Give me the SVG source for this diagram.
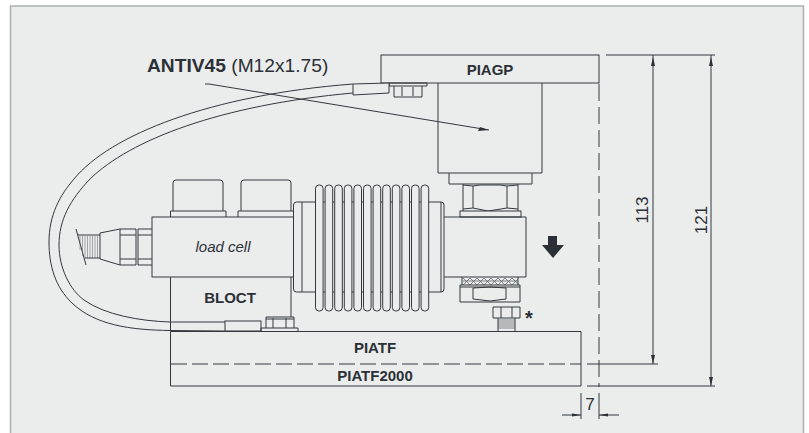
<svg xmlns="http://www.w3.org/2000/svg" width="809" height="433" viewBox="0 0 809 433">
<style>
text{font-family:"Liberation Sans",Arial,sans-serif;fill:#2b3036}
.l{fill:none;stroke:#33383d;stroke-width:1}
.f{fill:#ebeded;stroke:#33383d;stroke-width:1}
.b{font-weight:bold;font-size:15px;text-anchor:middle}
.d{fill:none;stroke:#33383d;stroke-width:1;stroke-dasharray:16 5}
.a{fill:#2b3036;stroke:none}
.t{fill:none;stroke:#555a5e;stroke-width:.7}
.h{fill:none;stroke:#555a5e;stroke-width:.5}
</style>
<rect x="0" y="0" width="809" height="433" fill="#fff"/>
<path d="M10.500 433V6H803.500V433" fill="#ebeded" stroke="#aeb0b0" stroke-width="1.500"/>
<g id="connectors">
<path class="l" d="M225 331L170 330.500C130 330 95 325 72 303C55 287 49 265 49 242C49 215 60 195 74 179C110 135 210 95 353 84"/>
<path class="l" d="M225 322H170C140 321 105 315 84 300C70 290 59 268 59 245C59 220 70 200 90 179C130 140 220 105 353 93"/>
<path class="l" d="M205 84H209L489 130"/>
<path class="a" d="M489 130L478 131L480 127Z"/>
<path class="d" d="M171 364H581"/>
<path class="d" style="stroke-dasharray:17 6" d="M599 84V387"/>
<path class="l" d="M606 55H715M587 364H658M587 386H715M581 393V419M599 393V419M562 415H581M599 415H619M653 55V364M711 55V386"/>
<path class="a" d="M653 57L651 66H655ZM653 364L651 355H655ZM711 57L709 66H713ZM711 386L709 377H713ZM581 415L572 413.500V416.500ZM599 415L608 413.500V416.500Z"/>
</g>
<g id="piagp"><rect class="f" x="381" y="55" width="218" height="28"/><text class="b" x="490" y="75">PIAGP</text><path class="l" d="M389 83H427V86H389ZM394 86V97H422V86M402 87V96M413 87V96"/><path class="f" d="M353 84L389 83V93L353 95Z"/></g>
<g id="column"><path class="l" d="M438 83V173H542V83M449 173V184H532V173M463 184V211M518 184V211M473 186V208M507 186V208M463 185L473 186L480 185H500L507 186L518 185M463 209L473 208L488 211L507 208L518 209"/><rect class="f" x="460" y="211" width="61" height="6"/></g>
<g id="lockers"><path class="l" d="M173 211V183Q173 180 176 180H220Q223 180 223 183V211M170.500 217V211H226V217M241 211V183Q241 180 244 180H288Q291 180 291 183V211M238 217V211H294V217"/></g>
<g id="loadcell"><rect class="f" x="152" y="217" width="142" height="60"/><text x="223" y="252" font-style="italic" font-size="15" text-anchor="middle">load cell</text></g>
<g id="gland"><path class="l" d="M152 229H138V265H152M136 229H120V265H136V229M120 229L100 233V259L120 265M120 235H136M120 259H136M138 235H152M138 259H152M76 229L86 265M78 235H100M85 258H100"/><path class="h" d="M80 236V250M82.500 236V256M85 236V258M87.500 236V258M90 236V258M92.500 236V258M95 236V258M97.500 236V258"/></g>
<g id="bloct"><path class="l" d="M170.500 277V331M291 277V317"/><text class="b" x="230" y="303">BLOCT</text><rect class="f" x="225" y="321" width="36" height="10"/><path class="l" d="M261 331V328H298V331M266 328V317H294V328M273 318V328M286 318V328M266 319H294"/></g>
<g id="bellows">
<rect class="f" x="293.500" y="202" width="150.500" height="90" rx="3"/>
<path class="l" d="M302 202V292M441 202V292"/>
<g class="f"><rect x="315.500" y="185" width="7.600" height="126" rx="3.500"/><rect x="325.100" y="185" width="7.600" height="126" rx="3.500"/><rect x="334.700" y="185" width="7.600" height="126" rx="3.500"/><rect x="344.300" y="185" width="7.600" height="126" rx="3.500"/><rect x="353.900" y="185" width="7.600" height="126" rx="3.500"/><rect x="363.500" y="185" width="7.600" height="126" rx="3.500"/><rect x="373.100" y="185" width="7.600" height="126" rx="3.500"/><rect x="382.700" y="185" width="7.600" height="126" rx="3.500"/><rect x="392.300" y="185" width="7.600" height="126" rx="3.500"/><rect x="401.900" y="185" width="7.600" height="126" rx="3.500"/><rect x="411.500" y="185" width="7.600" height="126" rx="3.500"/><rect x="421.100" y="185" width="7.600" height="126" rx="3.500"/></g>
</g>
<g id="end"><path class="l" d="M444 217H526V277H444M462 277V285M518 277V285"/><path class="t" d="M463 278L470 285L477 278L484 285L491 278L498 285L505 278L512 285L518 279M463 285L470 278L477 285L484 278L491 285L498 278L505 285L512 278L518 284M463 281H518"/><path class="l" d="M460 285H520V302H460ZM460 287H520M473 288V299M506 288V299M473 288L490 287L506 288M473 299L490 301L506 299"/></g>
<g id="bolt"><path class="l" d="M493 307H520V318H493ZM501 307V318M512 307V318M498 318V331M515 318V331"/><path class="t" d="M498 320H515M498 322H515M498 324H515M498 326H515M498 328H515"/><text x="529" y="325" font-size="20" font-weight="bold" text-anchor="middle">*</text></g>
<path id="arrow" class="a" d="M548 236H557V245H564L553 258L542 245H548Z"/>
<g id="piatf"><path class="l" d="M170.500 331.500H581V386H170.500Z"/><text class="b" x="375" y="353">PIATF</text><text class="b" x="375" y="381">PIATF2000</text></g>
<g id="labels"><text x="147" y="71.500" font-size="19.200"><tspan font-weight="bold">ANTIV45</tspan> (M12x1.75)</text><text x="648" y="210" font-size="17" transform="rotate(-90 648 210)" text-anchor="middle">113</text><text x="707" y="220" font-size="17" transform="rotate(-90 707 220)" text-anchor="middle">121</text><text x="590" y="410" font-size="17" text-anchor="middle">7</text></g>
</svg>
